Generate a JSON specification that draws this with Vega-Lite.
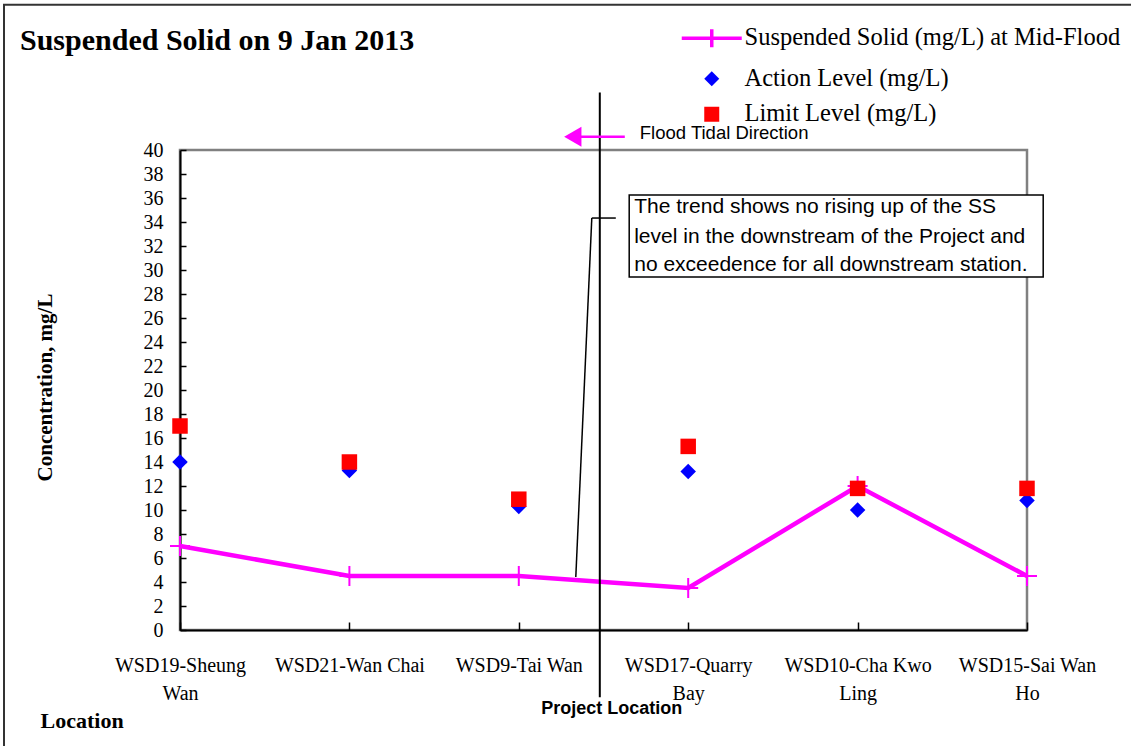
{
  "$schema": "https://vega.github.io/schema/vega-lite/v6.json",
  "width": 847,
  "height": 480,
  "autosize": {"type": "none"},
  "padding": {"left": 180, "top": 150, "right": 104, "bottom": 116},
  "background": "white",
  "config": {
    "view": {"stroke": "#808080", "strokeWidth": 2.5},
    "font": "Liberation Serif",
    "axisY": {"labelOverlap": false},
    "axisX": {"labelAlign": "center"}
  },
  "title": {
    "text": "Suspended Solid on 9 Jan 2013",
    "font": "Liberation Serif",
    "fontWeight": "bold",
    "fontSize": 30,
    "color": "#000000",
    "anchor": "start",
    "frame": "group",
    "baseline": "alphabetic",
    "dx": -160,
    "offset": -76
  },
  "encoding": {
    "x": {
      "field": "location", "type": "nominal", "sort": null,
      "scale": {"type": "point", "padding": 0, "domain": ["WSD19-Sheung Wan", "WSD21-Wan Chai", "WSD9-Tai Wan", "WSD17-Quarry Bay", "WSD10-Cha Kwo Ling", "WSD15-Sai Wan Ho"]},
      "axis": {
        "title": "Location",
        "titleFont": "Liberation Serif", "titleFontWeight": "bold", "titleFontSize": 22, "titleColor": "#000000",
        "titleX": -140, "titleY": 90, "titleAlign": "left", "titleBaseline": "middle", "titleAnchor": null,
        "labelAngle": 0, "labelAlign": "center", "labelBaseline": "top",
        "labelFont": "Liberation Serif", "labelFontSize": 20, "labelColor": "#000000",
        "labelLineHeight": 28, "labelPadding": 33,
        "labelExpr": "datum.value === 'WSD19-Sheung Wan' ? ['WSD19-Sheung', 'Wan'] : datum.value === 'WSD17-Quarry Bay' ? ['WSD17-Quarry', 'Bay'] : datum.value === 'WSD10-Cha Kwo Ling' ? ['WSD10-Cha Kwo', 'Ling'] : datum.value === 'WSD15-Sai Wan Ho' ? ['WSD15-Sai Wan', 'Ho'] : datum.value",
        "domainColor": "#000000", "domainWidth": 2,
        "tickColor": "#000000", "tickSize": -8, "tickWidth": 1.5,
        "grid": false
      }
    },
    "y": {
      "field": "value", "type": "quantitative",
      "scale": {"domain": [0, 40], "nice": false},
      "axis": {
        "title": "Concentration, mg/L",
        "titleFont": "Liberation Serif", "titleFontWeight": "bold", "titleFontSize": 21, "titleColor": "#000000",
        "titleX": -135, "titleY": 237, "titleAngle": -90, "titleAlign": "center", "titleBaseline": "middle",
        "values": [0, 2, 4, 6, 8, 10, 12, 14, 16, 18, 20, 22, 24, 26, 28, 30, 32, 34, 36, 38, 40],
        "labelFont": "Liberation Serif", "labelFontSize": 20, "labelColor": "#000000", "labelPadding": 23,
        "labelOverlap": false,
        "domainColor": "#000000", "domainWidth": 2,
        "tickColor": "#000000", "tickSize": -6, "tickWidth": 1.5,
        "grid": false
      }
    }
  },
  "layer": [
    {
      "data": {"values": [{"location": "WSD19-Sheung Wan", "value": 52.1, "value2": -11}]},
      "mark": {"type": "rect", "filled": false, "stroke": "#333333", "strokeWidth": 2, "xOffset": -176, "x2Offset": 113},
      "encoding": {
        "x2": {"datum": "WSD15-Sai Wan Ho"},
        "y2": {"field": "value2"}
      }
    },
    {
      "data": {"name": "main", "values": [
        {"location": "WSD19-Sheung Wan", "series": "Suspended Solid (mg/L) at Mid-Flood", "value": 7.0},
        {"location": "WSD21-Wan Chai", "series": "Suspended Solid (mg/L) at Mid-Flood", "value": 4.5},
        {"location": "WSD9-Tai Wan", "series": "Suspended Solid (mg/L) at Mid-Flood", "value": 4.5},
        {"location": "WSD17-Quarry Bay", "series": "Suspended Solid (mg/L) at Mid-Flood", "value": 3.5},
        {"location": "WSD10-Cha Kwo Ling", "series": "Suspended Solid (mg/L) at Mid-Flood", "value": 12.0},
        {"location": "WSD15-Sai Wan Ho", "series": "Suspended Solid (mg/L) at Mid-Flood", "value": 4.5},
        {"location": "WSD19-Sheung Wan", "series": "Action Level (mg/L)", "value": 14.0},
        {"location": "WSD21-Wan Chai", "series": "Action Level (mg/L)", "value": 13.3},
        {"location": "WSD9-Tai Wan", "series": "Action Level (mg/L)", "value": 10.3},
        {"location": "WSD17-Quarry Bay", "series": "Action Level (mg/L)", "value": 13.2},
        {"location": "WSD10-Cha Kwo Ling", "series": "Action Level (mg/L)", "value": 10.0},
        {"location": "WSD15-Sai Wan Ho", "series": "Action Level (mg/L)", "value": 10.8},
        {"location": "WSD19-Sheung Wan", "series": "Limit Level (mg/L)", "value": 17.0},
        {"location": "WSD21-Wan Chai", "series": "Limit Level (mg/L)", "value": 14.0},
        {"location": "WSD9-Tai Wan", "series": "Limit Level (mg/L)", "value": 10.9},
        {"location": "WSD17-Quarry Bay", "series": "Limit Level (mg/L)", "value": 15.3},
        {"location": "WSD10-Cha Kwo Ling", "series": "Limit Level (mg/L)", "value": 11.8},
        {"location": "WSD15-Sai Wan Ho", "series": "Limit Level (mg/L)", "value": 11.8}
      ]},
      "transform": [{"filter": "datum.series === 'Suspended Solid (mg/L) at Mid-Flood'"}],
      "mark": {"type": "line", "strokeWidth": 4.5},
      "encoding": {
        "color": {
          "field": "series", "type": "nominal",
          "scale": {"domain": ["Suspended Solid (mg/L) at Mid-Flood", "Action Level (mg/L)", "Limit Level (mg/L)"], "range": ["#ff00ff", "#0000ff", "#ff0000"]},
          "legend": {
            "title": null,
            "orient": "none",
            "legendX": 519.5,
            "legendY": -124,
            "direction": "vertical",
            "symbolSize": 225,
            "labelFont": "Liberation Serif", "labelFontSize": 24.5, "labelColor": "#000000",
            "labelOffset": 20.5,
            "rowPadding": 10.5,
            "labelLimit": 500,
            "encode": {
              "symbols": {
                "update": {
                  "shape": {"signal": "datum.value === 'Suspended Solid (mg/L) at Mid-Flood' ? 'M-1,0L1,0M0,-0.3L0,0.3' : datum.value === 'Action Level (mg/L)' ? 'diamond' : 'square'"},
                  "size": {"signal": "datum.value === 'Suspended Solid (mg/L) at Mid-Flood' ? 3600 : 225"},
                  "fill": {"signal": "datum.value === 'Suspended Solid (mg/L) at Mid-Flood' ? 'transparent' : datum.value === 'Action Level (mg/L)' ? '#0000ff' : '#ff0000'"},
                  "stroke": {"signal": "datum.value === 'Suspended Solid (mg/L) at Mid-Flood' ? '#ff00ff' : 'transparent'"},
                  "strokeWidth": {"signal": "datum.value === 'Suspended Solid (mg/L) at Mid-Flood' ? 3.5 : 0"},
                  "opacity": {"value": 1}
                }
              }
            }
          }
        }
      }
    },
    {
      "data": {"name": "main"},
      "transform": [{"filter": "datum.series === 'Suspended Solid (mg/L) at Mid-Flood'"}],
      "mark": {"type": "point", "shape": "M-1,0L1,0M0,-1L0,1", "size": 400, "filled": false, "stroke": "#ff00ff", "strokeWidth": 2, "opacity": 1}
    },
    {
      "data": {"name": "main"},
      "transform": [{"filter": "datum.series !== 'Suspended Solid (mg/L) at Mid-Flood'"}],
      "mark": {"type": "point", "filled": true, "size": 240, "opacity": 1},
      "encoding": {
        "color": {"field": "series", "type": "nominal"},
        "shape": {"field": "series", "type": "nominal", "scale": {"domain": ["Action Level (mg/L)", "Limit Level (mg/L)"], "range": ["diamond", "square"]}, "legend": null}
      }
    },
    {
      "data": {"values": [{"location": "WSD9-Tai Wan", "value": 44.8, "value2": -5.6}]},
      "mark": {"type": "rule", "color": "#000000", "strokeWidth": 2, "xOffset": 81},
      "encoding": {
        "y2": {"field": "value2"}
      }
    },
    {
      "data": {"values": [{"location": "WSD9-Tai Wan", "value": 4.42, "value2": 34.33}]},
      "mark": {"type": "rule", "color": "#000000", "strokeWidth": 1.5, "xOffset": 57, "x2Offset": 73},
      "encoding": {
        "x2": {"field": "location"},
        "y2": {"field": "value2"}
      }
    },
    {
      "data": {"values": [{"location": "WSD9-Tai Wan", "value": 34.33}]},
      "mark": {"type": "rule", "color": "#000000", "strokeWidth": 1.5, "xOffset": 73, "x2Offset": 97},
      "encoding": {
        "x2": {"field": "location"}
      }
    },
    {
      "data": {"values": [{"location": "WSD17-Quarry Bay", "value": 36.25, "value2": 29.42}]},
      "mark": {"type": "rect", "fill": "#ffffff", "stroke": "#000000", "strokeWidth": 1.5, "xOffset": -59, "x2Offset": 355},
      "encoding": {
        "x2": {"field": "location"},
        "y2": {"field": "value2"}
      }
    },
    {
      "data": {"values": [
        {"location": "WSD17-Quarry Bay", "value": 35.25, "label": "The trend shows no rising up of the SS"},
        {"location": "WSD17-Quarry Bay", "value": 32.75, "label": "level in the downstream of the Project and"},
        {"location": "WSD17-Quarry Bay", "value": 30.42, "label": "no exceedence for all downstream station."}
      ]},
      "mark": {"type": "text", "font": "Liberation Sans", "fontSize": 21, "color": "#000000", "align": "left", "baseline": "middle", "xOffset": -54},
      "encoding": {
        "text": {"field": "label"}
      }
    },
    {
      "data": {"values": [{"location": "WSD9-Tai Wan", "value": 41.1}]},
      "mark": {"type": "rule", "color": "#ff00ff", "strokeWidth": 2.5, "xOffset": 62, "x2Offset": 106},
      "encoding": {
        "x2": {"field": "location"}
      }
    },
    {
      "data": {"values": [{"location": "WSD9-Tai Wan", "value": 41.1}]},
      "mark": {"type": "point", "shape": "triangle-left", "filled": true, "color": "#ff00ff", "size": 400, "opacity": 1, "xOffset": 54}
    },
    {
      "data": {"values": [{"location": "WSD9-Tai Wan", "value": 41.4, "label": "Flood Tidal Direction"}]},
      "mark": {"type": "text", "font": "Liberation Sans", "fontSize": 18.5, "color": "#000000", "align": "left", "baseline": "middle", "xOffset": 121},
      "encoding": {
        "text": {"field": "label"}
      }
    },
    {
      "data": {"values": [{"location": "WSD9-Tai Wan", "value": -6.6, "label": "Project Location"}]},
      "mark": {"type": "text", "font": "Liberation Sans", "fontSize": 18, "fontWeight": "bold", "color": "#000000", "align": "center", "baseline": "middle", "xOffset": 93},
      "encoding": {
        "text": {"field": "label"}
      }
    }
  ]
}
